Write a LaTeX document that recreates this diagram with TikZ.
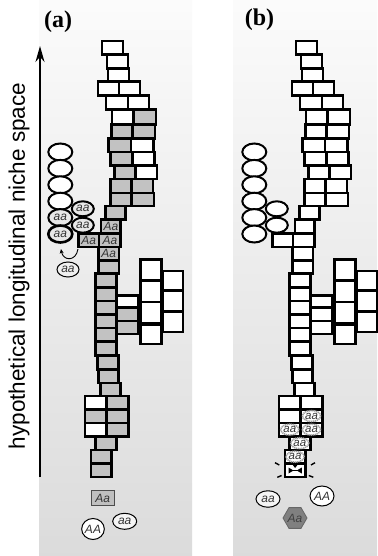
\documentclass[tikz,border=0pt]{standalone}
\usepackage{fontspec}
\setmainfont{Liberation Serif}
\newfontfamily\sansf{Liberation Sans}
\usetikzlibrary{shapes.geometric,arrows.meta}
\tikzset{
  blk/.style={draw=black,line width=2.5pt},
  ov/.style={ellipse,draw=black,line width=2pt,inner sep=0pt,minimum width=24pt,minimum height=17pt},
  gtext/.style={font=\sansf\itshape\fontsize{12}{12}\selectfont,text=black!80},
  aacell/.style={ellipse,draw=gray!75,line width=1.6pt,dash pattern=on 1.2pt off 0.7pt,fill=white,inner sep=0pt,minimum width=18pt,minimum height=11pt,font=\sansf\itshape\fontsize{11.5}{11.5}\selectfont,text=black!80},
  circ/.style={ellipse,draw=black,line width=1pt,fill=white,inner sep=0pt},
}
\colorlet{G}{gray!48}
\colorlet{W}{white}
\newcommand{\bxa}[5]{\draw[blk,fill=#5] (#1,#2) rectangle (#3,#4);}
\begin{document}
\begin{tikzpicture}[x=1pt,y=-1pt]
\useasboundingbox (0,0) rectangle (377,556);
\fill[white] (0,0) rectangle (377,556);
\shade[top color=gray!3,bottom color=gray!28] (39,0) rectangle (192,556);
\shade[top color=gray!3,bottom color=gray!28] (233,0) rectangle (377,556);

% labels
\node[font=\bfseries\fontsize{24}{24}\selectfont,inner sep=0pt] (la) at (58,21.5) {(a)};
\node[font=\bfseries\fontsize{24}{24}\selectfont,inner sep=0pt] (lb) at (259.5,19.5) {(b)};

% axis
\coordinate (ax0) at (40,477);
\coordinate (ax1) at (40,46);
\draw[line width=1.8pt,-{Stealth[length=16pt,width=9pt]}] (ax0) -- (ax1);
\node[rotate=90,font=\sansf\fontsize{22.5}{22.5}\selectfont,inner sep=0pt] (axl) at (19,266) {hypothetical longitudinal niche space};

%%%%%%%% panel (a)
\bxa{102}{41}{123}{54.5}{W}
\bxa{107}{54.5}{128}{68.3}{W}
\bxa{108}{68.3}{129}{81.5}{W}
\bxa{98}{81.5}{119}{95.3}{W}\bxa{119}{81.5}{140}{95.3}{W}
\bxa{106}{95.3}{128}{109.5}{W}\bxa{128}{95.3}{149}{109.5}{W}
\bxa{112}{109.5}{133.3}{124.6}{W}\bxa{133.3}{109.5}{156}{124.6}{G}
\bxa{111.7}{124.6}{132.3}{138.5}{G}\bxa{132.3}{124.6}{155}{138.5}{G}
\bxa{108.7}{138.5}{131}{152}{G}\bxa{131}{138.5}{153.3}{152}{W}
\bxa{110.3}{152}{132.3}{165.4}{G}\bxa{132.3}{152}{154.7}{165.4}{W}
\bxa{114.7}{165.4}{135.3}{178.8}{G}\bxa{135.3}{165.4}{157}{178.8}{W}
\bxa{110.3}{178.8}{131.7}{192.8}{G}\bxa{131.7}{178.8}{153}{192.8}{G}
\bxa{110.3}{192.8}{131.7}{206.2}{G}\bxa{131.7}{192.8}{154}{206.2}{G}
\bxa{105.3}{206.2}{125.7}{219.7}{G}
\bxa{101}{219.7}{120.7}{233.5}{G}
\bxa{78.3}{233.5}{99}{247}{G}\bxa{99}{233.5}{120.7}{247}{G}
\bxa{98.3}{247}{119}{260.4}{G}
\bxa{98.3}{260.4}{119}{273.6}{G}
\foreach \ya/\yb in {273.6/287.3,287.3/301.2,301.2/314.7,314.7/328.2,328.2/341.7,341.7/355.3}{\bxa{95.3}{\ya}{116.7}{\yb}{G}}
\bxa{97.7}{355.3}{118.3}{369.5}{G}
\bxa{98.7}{369.5}{118.3}{382.8}{G}
\bxa{100.3}{382.8}{120.7}{395.8}{G}
\bxa{85}{395.8}{106.7}{409.3}{W}\bxa{106.7}{395.8}{128.3}{409.3}{G}
\bxa{85}{409.3}{106.7}{422.8}{G}\bxa{106.7}{409.3}{128.3}{422.8}{G}
\bxa{85}{422.8}{106.7}{436.5}{W}\bxa{106.7}{422.8}{128.3}{436.5}{G}
\bxa{95.3}{436.5}{116.3}{450}{G}
\bxa{91}{450}{111.3}{463.5}{G}
\bxa{91}{463.5}{111.3}{477}{G}
% side blocks
\bxa{117}{295.3}{138.3}{307.6}{W}
\bxa{117}{307.6}{138.3}{321}{G}
\bxa{117}{321}{138.3}{334}{G}
% big squares
\bxa{140.3}{259.5}{161.3}{280}{W}
\bxa{140.3}{281}{161.3}{302}{W}
\bxa{140.3}{302}{161.3}{323.3}{W}
\bxa{140.3}{324.5}{161.3}{344}{W}
% far right
\bxa{162.3}{271}{183}{290.7}{W}
\bxa{162.3}{290.7}{183}{311.7}{W}
\bxa{162.3}{311.7}{183}{332}{W}
% Aa labels
\node[gtext] (a14) at (110.9,226.6) {Aa};
\node[gtext] (a15l) at (88.7,240.3) {Aa};
\node[gtext] (a15r) at (109.9,240.3) {Aa};
\node[gtext] (a16) at (108.7,253.7) {Aa};
% ovals (a)
\foreach \yy/\nm in {152/o1,168.4/o2,184.8/o3,201.2/o4}{\node[ov,fill=white] (\nm) at (60.3,\yy) {};}
\node[ov,fill=gray!18,gtext] (o5) at (60.3,217.6) {aa};
\node[ov,fill=gray!18,gtext,line width=2.6pt] (o6) at (60.3,234) {aa};
\node[ov,fill=gray!18,gtext,minimum width=22pt,minimum height=15pt] (o7) at (82.8,208.8) {aa};
\node[ov,fill=gray!18,gtext,minimum width=22pt,minimum height=15pt] (o8) at (82.8,225.2) {aa};
\node[ov,fill=gray!12,gtext,line width=1pt,minimum width=22pt,minimum height=15pt] (o9) at (68,269.5) {aa};
\coordinate (cA) at (78,249);
\coordinate (cB) at (61,249);
\draw[line width=0.9pt,-{Stealth[length=4.5pt,width=4pt]}] (cA) .. controls (76,262) and (63,261) .. (cB);
% bottom (a)
\node[draw=black!70,line width=1pt,fill=gray!50,gtext,minimum width=23pt,minimum height=15pt,inner sep=0pt] (aab) at (102.8,498) {Aa};
\node[circ,gtext,minimum width=22pt,minimum height=21pt] (AAa) at (93,529) {AA};
\node[circ,gtext,fill=gray!8,minimum width=24pt,minimum height=16pt] (aaa) at (124.7,521.3) {aa};

%%%%%%%% panel (b)
\begin{scope}[xshift=194pt]
\bxa{102}{41}{123}{54.5}{W}
\bxa{107}{54.5}{128}{68.3}{W}
\bxa{108}{68.3}{129}{81.5}{W}
\bxa{98}{81.5}{119}{95.3}{W}\bxa{119}{81.5}{140}{95.3}{W}
\bxa{106}{95.3}{128}{109.5}{W}\bxa{128}{95.3}{149}{109.5}{W}
\bxa{112}{109.5}{133.3}{124.6}{W}\bxa{133.3}{109.5}{156}{124.6}{W}
\bxa{111.7}{124.6}{132.3}{138.5}{W}\bxa{132.3}{124.6}{155}{138.5}{W}
\bxa{108.7}{138.5}{131}{152}{W}\bxa{131}{138.5}{153.3}{152}{W}
\bxa{110.3}{152}{132.3}{165.4}{W}\bxa{132.3}{152}{154.7}{165.4}{W}
\bxa{114.7}{165.4}{135.3}{178.8}{W}\bxa{135.3}{165.4}{157}{178.8}{W}
\bxa{110.3}{178.8}{131.7}{192.8}{W}\bxa{131.7}{178.8}{153}{192.8}{W}
\bxa{110.3}{192.8}{131.7}{206.2}{W}\bxa{131.7}{192.8}{154}{206.2}{W}
\bxa{105.3}{206.2}{125.7}{219.7}{W}
\bxa{101}{219.7}{120.7}{233.5}{W}
\bxa{78.3}{233.5}{99}{247}{W}\bxa{99}{233.5}{120.7}{247}{W}
\bxa{98.3}{247}{119}{260.4}{W}
\bxa{98.3}{260.4}{119}{273.6}{W}
\foreach \ya/\yb in {273.6/287.3,287.3/301.2,301.2/314.7,314.7/328.2,328.2/341.7,341.7/355.3}{\bxa{95.3}{\ya}{116.7}{\yb}{W}}
\bxa{97.7}{355.3}{118.3}{369.5}{W}
\bxa{98.7}{369.5}{118.3}{382.8}{W}
\bxa{100.3}{382.8}{120.7}{395.8}{W}
\bxa{85}{395.8}{106.7}{409.3}{W}\bxa{106.7}{395.8}{128.3}{409.3}{W}
\bxa{85}{409.3}{106.7}{422.8}{W}\bxa{106.7}{409.3}{128.3}{422.8}{W}
\bxa{85}{422.8}{106.7}{436.5}{W}\bxa{106.7}{422.8}{128.3}{436.5}{W}
\bxa{95.3}{436.5}{116.3}{450}{W}
\bxa{91}{450}{111.3}{463.5}{W}
\bxa{91}{463.5}{111.3}{477}{W}
\bxa{117}{295.3}{138.3}{307.6}{W}
\bxa{117}{307.6}{138.3}{321}{W}
\bxa{117}{321}{138.3}{334}{W}
\bxa{140.3}{259.5}{161.3}{280}{W}
\bxa{140.3}{281}{161.3}{302}{W}
\bxa{140.3}{302}{161.3}{323.3}{W}
\bxa{140.3}{324.5}{161.3}{344}{W}
\bxa{162.3}{271}{183}{290.7}{W}
\bxa{162.3}{290.7}{183}{311.7}{W}
\bxa{162.3}{311.7}{183}{332}{W}
% aa cells
\node[aacell] (c1) at (117.5,416) {aa};
\node[aacell] (c2) at (95.8,429.6) {aa};
\node[aacell] (c3) at (117.5,429.6) {aa};
\node[aacell] (c4) at (105.8,443.2) {aa};
\node[aacell] (c5) at (101.1,456.7) {aa};
% broken cell
\fill[black] (94.5,467.5) -- (94.5,473.5) -- (99.5,470.5) -- cycle;
\fill[black] (107.8,467.5) -- (107.8,473.5) -- (102.8,470.5) -- cycle;
\draw[line width=1.2pt] (99,470.5) -- (103.3,470.5);
\fill[black] (98.5,464.5) -- (103.8,464.5) -- (101.1,468) -- cycle;
\draw[line width=1.4pt] (81,462.7) -- (85.3,465);
\draw[line width=1.4pt] (121,462.7) -- (117,465);
\draw[line width=1.4pt] (83.3,477.3) -- (87.6,475.5);
\draw[line width=1.4pt] (119.3,477.3) -- (114.8,475.5);
% ovals (b)
\foreach \yy/\nm in {152/p1,168.4/p2,184.8/p3,201.2/p4,217.6/p5,234/p6}{\node[ov,fill=white] (\nm) at (60.3,\yy) {};}
\node[ov,fill=white,minimum width=22pt,minimum height=15pt] (p7) at (82.8,208.8) {};
\node[ov,fill=white,minimum width=22pt,minimum height=15pt] (p8) at (82.8,225.2) {};
% bottom (b)
\node[circ,gtext,minimum width=24pt,minimum height=16.5pt,fill=gray!8] (aab2) at (74,499) {aa};
\node[circ,gtext,minimum width=24pt,minimum height=20pt] (AAb) at (128,496) {AA};
\node[regular polygon,regular polygon sides=6,draw=black!60,line width=0.8pt,fill=gray!100,minimum size=24pt,inner sep=0pt,gtext,text=black!75] (hex) at (101,518) {Aa};
\end{scope}
\end{tikzpicture}
\end{document}
